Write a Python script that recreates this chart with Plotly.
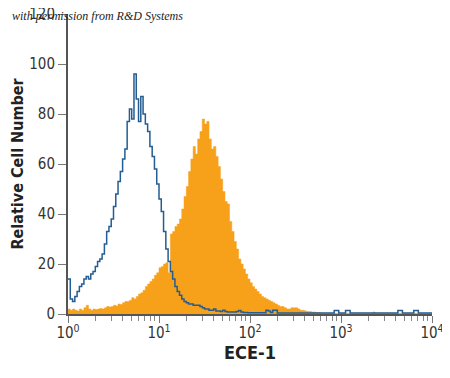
import numpy as np
import plotly.graph_objects as go

# histogram channels: 160 bins of 0.025 decade from 10^0 to 10^4
bin_width_decades = 0.025
n_bins = 160
edges_log = np.arange(n_bins + 1) * bin_width_decades

isotype_counts = [
    14, 6, 5, 7, 9, 11, 12, 14, 15, 14,
    16, 17, 19, 21, 22, 24, 28, 33, 35, 38,
    43, 48, 53, 57, 62, 66, 77, 82, 78, 96,
    86, 77, 87, 80, 76, 73, 67, 63, 58, 52,
    46, 41, 33, 26, 21, 17, 14, 11, 9, 7.5,
    6, 5, 4.5, 4, 4, 3.5, 3.5, 3.5, 3, 2.5,
    2, 2, 1.5, 1.5, 2, 1.2, 1.2, 1, 1.5, 1,
    0.8, 0.8, 0.8, 0.8, 1, 1.4, 0.8, 0.6, 0.6, 0.5,
    0.5, 0.5, 0.5, 0.5, 0.5, 0.5, 0.5, 1.5, 1.2, 0.6,
    1.5, 1.5, 0.4, 0.4, 0.4, 0.4, 0.4, 0.4, 0.4, 0.4,
    0.4, 0.4, 0.4, 0.4, 0.4, 0.4, 0.4, 0.4, 0.4, 0.4,
    0.4, 0.4, 0.4, 0.4, 0.4, 0.4, 0.4, 1.4, 1.4, 0.4,
    0.4, 0.4, 1.4, 1.4, 0.4, 0.4, 0.4, 0.4, 0.4, 0.4,
    0.4, 0.4, 0.4, 0.4, 0.4, 0.4, 0.4, 0.4, 0.4, 0.4,
    0.4, 0.4, 0.4, 0.4, 0.4, 1.4, 1.4, 0.4, 0.4, 0.4,
    0.4, 0.4, 1.4, 1.4, 0.4, 0.4, 0.4, 0.4, 0.4, 0.4,
]

ece1_counts = [
    2, 1.5, 2, 1.5, 1.2, 2, 1.5, 2.5, 3.5, 2,
    1.5, 2, 1.8, 2, 2.2, 2, 2.5, 3, 2.8, 3,
    3.5, 3.2, 4, 3.8, 4.5, 5, 5, 5.5, 6.5, 6,
    7, 8, 8.5, 9.5, 11, 12, 13, 14, 15.5, 16.5,
    18.5, 19, 20, 20.5, 16.5, 32, 33, 35, 36, 38,
    42, 47, 51, 57, 62, 67, 64, 70, 73, 78,
    76, 77, 70, 66, 67, 63, 59, 54, 49, 45,
    44, 37, 33, 29, 26, 22, 20, 18, 16, 14,
    12.5, 11, 10, 9, 8, 7, 6.5, 6, 5.5, 5,
    4.5, 4, 3.5, 3, 3, 2.5, 2, 2, 2.5, 2.5,
    2.5, 2, 1.5, 1.5, 1.2, 1, 1, 0.8, 0.8, 0.6,
    0.6, 0.3, 0.3, 0.3, 0.3, 0.3, 0.3, 0.3, 0.3, 0.3,
    0.3, 0.3, 0.3, 0.3, 0.3, 0.3, 0.3, 0.3, 0.3, 0.3,
    0.3, 0.3, 0.3, 0.3, 0.8, 0.3, 0.3, 0.3, 0.3, 0.3,
    0.3, 0.3, 0.3, 0.3, 0.3, 0.3, 0.3, 0.3, 0.3, 0.3,
    0.3, 0.3, 0.3, 0.3, 0.3, 0.3, 0.3, 0.3, 0.3, 0.3,
]

x_tick_vals = [1, 10, 100, 1000, 10000]
x_tick_text = ["10<sup>0</sup>", "10<sup>1</sup>", "10<sup>2</sup>", "10<sup>3</sup>", "10<sup>4</sup>"]
y_tick_vals = [0, 20, 40, 60, 80, 100, 120]

x_edges = 10 ** edges_log
x_step = list(x_edges)
ece_step = list(ece1_counts) + [ece1_counts[-1]]
iso_step = list(isotype_counts) + [isotype_counts[-1]]

minor_vals = [m * 10 ** d for d in range(4) for m in range(2, 10)]

FONT = "DejaVu Sans Condensed, Liberation Sans Narrow, Roboto, sans-serif"

fig = go.Figure()
fig.add_trace(go.Scatter(
    x=x_step, y=ece_step, mode="lines", line=dict(shape="hv", width=0.5, color="#f7a11a"),
    fill="tozeroy", fillcolor="#f7a11a", hoverinfo="skip", showlegend=False,
))
fig.add_trace(go.Scatter(
    x=x_step, y=iso_step, mode="lines", line=dict(shape="hv", width=1.5, color="#235d92"),
    hoverinfo="skip", showlegend=False,
))

fig.update_layout(
    width=442, height=370,
    margin=dict(l=60, r=18, t=6, b=64),
    paper_bgcolor="white", plot_bgcolor="white",
    font=dict(family=FONT, color="#333"),
    xaxis=dict(
        type="log", range=[0, 4], automargin=False,
        tickvals=x_tick_vals, ticktext=x_tick_text,
        ticks="outside", ticklen=7, tickwidth=1, tickcolor="#777",
        ticklabelstandoff=-3, ticklabeloverflow="allow",
        minor=dict(tickvals=minor_vals, ticks="outside", ticklen=5, tickwidth=1, tickcolor="#888", showgrid=False),
        showline=True, linecolor="#555", linewidth=2,
        showgrid=False, zeroline=False,
        tickfont=dict(family=FONT, size=15, color="#333"),
        title=dict(text="<b>ECE-1</b>", font=dict(family=FONT, size=18, color="#222"), standoff=2),
    ),
    yaxis=dict(
        range=[0, 120], automargin=False,
        tickvals=y_tick_vals, ticklabeloverflow="allow",
        ticks="outside", ticklen=8, tickwidth=1, tickcolor="#777",
        showline=True, linecolor="#555", linewidth=2,
        showgrid=False, zeroline=False,
        tickfont=dict(family=FONT, size=15, color="#333"),
        title=dict(text="<b>Relative Cell Number</b>", font=dict(family=FONT, size=16, color="#222"), standoff=6),
    ),
    annotations=[dict(
        text="<i>with permission from R&amp;D Systems</i>",
        xref="paper", yref="paper", x=0, y=1.0, xanchor="left", yanchor="middle",
        xshift=-58, yshift=-2,
        showarrow=False, font=dict(family="Liberation Serif, serif", size=12, color="#222"),
    )],
)

fig.write_html("out.html")
